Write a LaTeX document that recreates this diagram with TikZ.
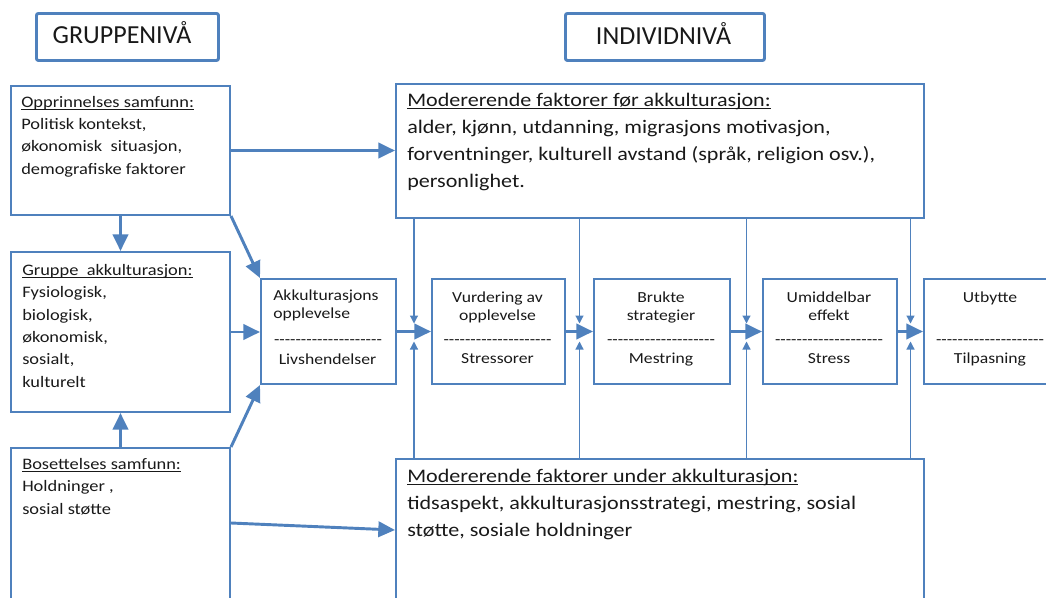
\documentclass[tikz,border=0pt]{standalone}
\usepackage{fontspec}
\setmainfont{Carlito}[FakeStretch=1.15]
\newfontfamily\hdrfont{Carlito}
\usetikzlibrary{arrows.meta,calc}
\definecolor{obl}{HTML}{4F81BD}
\newcommand\ulin[1]{\setbox0\hbox{#1}\rlap{\rule[-2pt]{\wd0}{0.7pt}}\box0}
\newcommand\dd{-\kern0pt}
\newcommand\dashrow{\dd\dd\dd\dd\dd\dd\dd\dd\dd\dd\dd\dd\dd\dd\dd\dd\dd\dd\dd\dd}
\newcommand\lfont{\fontsize{12pt}{16.7pt}\selectfont}
\newcommand\mfont{\fontsize{14.4pt}{20.25pt}\selectfont}
\newcommand\sfont{\fontsize{11.5pt}{13.5pt}\selectfont}
\newcommand\hfont{\hdrfont\fontsize{19.5pt}{24pt}\selectfont}
\begin{document}
\begin{tikzpicture}[x=0.75pt,y=-0.75pt,
  box/.style={draw=obl,line width=1.5pt,anchor=north west,inner sep=0pt},
  hbox/.style={draw=obl,line width=2.2pt,rounded corners=1.5pt,anchor=north west,inner sep=0pt},
  txt/.style={anchor=base west,inner sep=0pt,align=left,text=black!90},
  ctxt/.style={anchor=base,inner sep=0pt,align=center,text=black!90},
  big/.style={draw=obl,line width=2.2pt,-{Triangle[length=12.5pt,width=11.5pt]}},
  thin/.style={draw=obl,line width=0.9pt,-{Triangle[length=6pt,width=6pt]}}]
\useasboundingbox (0,0) rectangle (1046,597);
% header boxes
\node[hbox,minimum width=182*0.75pt,minimum height=47*0.75pt] (gh) at (35,12) {};
\node[hbox,minimum width=199*0.75pt,minimum height=47*0.75pt] (ih) at (564,12) {};
\node[ctxt,font=\hfont] (ght) at (122,43) {GRUPPENIVÅ};
\node[ctxt,font=\hfont] (iht) at (663.5,44) {INDIVIDNIVÅ};
% left boxes
\node[box,minimum width=219*0.75pt,minimum height=129*0.75pt] (opp) at (10,85) {};
\node[box,minimum width=219*0.75pt,minimum height=160*0.75pt] (grp) at (10,251) {};
\node[box,minimum width=219*0.75pt,minimum height=180*0.75pt] (bos) at (10,447) {};
\node[txt,font=\lfont] (oppt) at (21,174) {\ulin{Opprinnelses samfunn:}\\Politisk kontekst,\\økonomisk\ \ situasjon,\\demografiske faktorer};
\node[txt,font=\lfont] (grpt) at (22,387) {\ulin{Gruppe\ \ akkulturasjon:}\\Fysiologisk,\\biologisk,\\økonomisk,\\sosialt,\\kulturelt};
\node[txt,font=\lfont] (bost) at (22,514) {\ulin{Bosettelses samfunn:}\\Holdninger ,\\sosial støtte};
% moderating boxes
\node[box,minimum width=528*0.75pt,minimum height=134*0.75pt] (mf) at (395,83) {};
\node[box,minimum width=528*0.75pt,minimum height=170*0.75pt] (mu) at (395,458) {};
\node[txt,font=\mfont] (mft) at (407,187) {\ulin{Modererende faktorer før akkulturasjon:}\\alder, kjønn, utdanning, migrasjons motivasjon,\\forventninger, kulturell avstand (språk, religion osv.),\\personlighet.};
\node[txt,font=\mfont] (mut) at (407,536) {\ulin{Modererende faktorer under akkulturasjon:}\\tidsaspekt, akkulturasjonsstrategi, mestring, sosial\\støtte, sosiale holdninger};
% process boxes
\node[box,minimum width=135*0.75pt,minimum height=105*0.75pt] (akk) at (260,278) {};
\node[box,minimum width=133*0.75pt,minimum height=105*0.75pt] (vur) at (431,278) {};
\node[box,minimum width=136*0.75pt,minimum height=105*0.75pt] (bru) at (593,278) {};
\node[box,minimum width=134*0.75pt,minimum height=105*0.75pt] (umi) at (762,278) {};
\node[box,minimum width=134*0.75pt,minimum height=105*0.75pt] (utb) at (923,278) {};
\node[txt,font=\sfont] (akk1) at (273,318) {Akkulturasjons\\opplevelse};
\node[ctxt,font=\sfont] (akk2) at (328,344) {\dashrow};
\node[ctxt,font=\sfont] (akk3) at (327.5,364) {Livshendelser};
\node[ctxt,font=\sfont] (vur1) at (497.5,320) {Vurdering av\\opplevelse};
\node[ctxt,font=\sfont] (vur2) at (497.5,344) {\dashrow};
\node[ctxt,font=\sfont] (vur3) at (497.5,363) {Stressorer};
\node[ctxt,font=\sfont] (bru1) at (661,320) {Brukte\\strategier};
\node[ctxt,font=\sfont] (bru2) at (661,344) {\dashrow};
\node[ctxt,font=\sfont] (bru3) at (661,363) {Mestring};
\node[ctxt,font=\sfont] (umi1) at (829,320) {Umiddelbar\\effekt};
\node[ctxt,font=\sfont] (umi2) at (829,344) {\dashrow};
\node[ctxt,font=\sfont] (umi3) at (829,363) {Stress};
\node[ctxt,font=\sfont] (utb1) at (990,302) {Utbytte};
\node[ctxt,font=\sfont] (utb2) at (990,344) {\dashrow};
\node[ctxt,font=\sfont] (utb3) at (990,363) {Tilpasning};
% left arrows
\draw[big] (opp.east) -- (mf.west |- opp.east);
\draw[big] (opp.south) -- (grp.north);
\draw[big] (opp.south east) -- (akk.north west);
\draw[big] (grp.east) -- (akk.west |- grp.east);
\draw[big] (bos.north) -- (grp.south);
\draw[big] (bos.north east) -- (akk.south west);
\draw[big] ($(bos.north east)+(0,76)$) -- ($(mu.north west)+(0,72)$);
% process arrows
\draw[big] (akk.east) -- (vur.west |- akk.east);
\draw[big] (vur.east) -- (bru.west |- vur.east);
\draw[big] (bru.east) -- (umi.west |- bru.east);
\draw[big] (umi.east) -- (utb.west |- umi.east);
% thin moderating arrows
\coordinate (m1) at ($(akk.east)!0.5!(vur.west)$);
\coordinate (m2) at ($(vur.east)!0.5!(bru.west)$);
\coordinate (m3) at ($(bru.east)!0.5!(umi.west)$);
\coordinate (m4) at ($(umi.east)!0.5!(utb.west)$);
\foreach \m in {m1,m2,m3,m4}{
  \draw[thin] (mf.south -| \m) -- ($(\m)+(0,-8)$);
  \draw[thin] (mu.north -| \m) -- ($(\m)+(0,10)$);
}
\end{tikzpicture}
\end{document}
